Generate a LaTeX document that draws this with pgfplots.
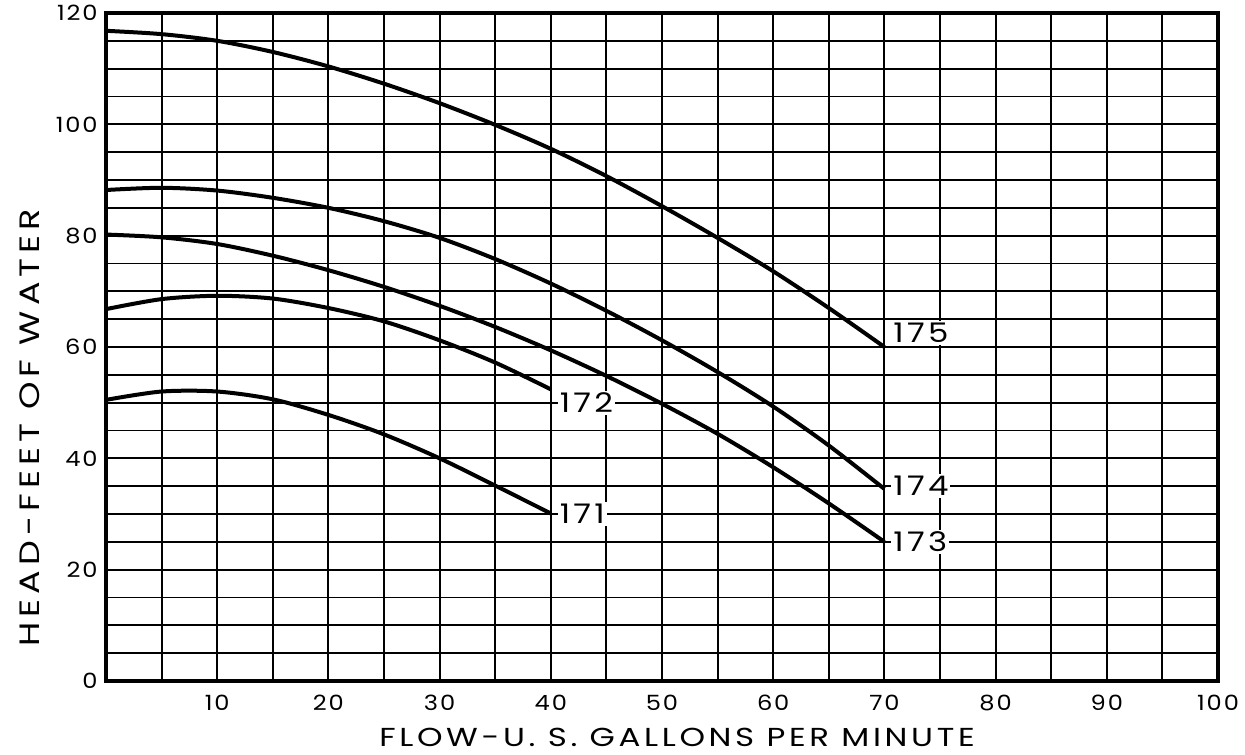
\documentclass[border=0pt]{standalone}
\usepackage{fontspec}
\setmainfont{Poppins}
\newfontfamily\ticfont[FakeStretch=1.15, LetterSpace=9]{Poppins}
\newfontfamily\curvefont[FakeStretch=1.2, LetterSpace=12]{Poppins}
\newfontfamily\xlabfont[FakeStretch=1.25, LetterSpace=14]{Poppins}
\newfontfamily\ylabfont[FakeStretch=1.25, LetterSpace=18]{Poppins}
\usepackage{pgfplots}
\pgfplotsset{compat=1.18}
\begin{document}
\begin{tikzpicture}
\begin{axis}[
  scale only axis, width=556pt, height=334pt,
  xmin=0, xmax=100, ymin=0, ymax=120,
  xtick={10,20,...,100}, ytick={0,20,...,120},
  minor xtick={5,15,...,95},
  minor ytick={5,10,15,25,30,35,45,50,55,65,70,75,85,90,95,105,110,115},
  grid=both,
  major grid style={black, line width=0.95pt},
  minor grid style={black, line width=0.95pt},
  major tick length=0pt, minor tick length=0pt,
  axis line style={black, line width=2.3pt},
  /pgf/number format/assume math mode=true,
  tick label style={font=\ticfont\fontsize{10.5}{12}\selectfont, inner sep=0pt},
  xticklabel style={anchor=north, yshift=-7pt},
  yticklabel style={anchor=east, xshift=-4pt},
  clip=false,
]
\addplot[black, line width=2pt, smooth] coordinates {
 (0,116.8) (5,116.2) (10,115.0) (15,113.0) (20,110.4) (25,107.3) (30,103.8) (35,99.9) (40,95.6) (45,90.7) (50,85.3) (55,79.6) (60,73.6) (65,67.0) (70,60)};
\addplot[black, line width=2pt, smooth] coordinates {
 (0,88.2) (5,88.6) (10,88.1) (15,86.8) (20,85) (25,82.6) (30,79.6) (35,75.8) (40,71.4) (45,66.5) (50,61.2) (55,55.5) (60,49.3) (65,42.3) (70,34.5)};
\addplot[black, line width=2pt, smooth] coordinates {
 (0,80.2) (5,79.7) (10,78.5) (15,76.4) (20,73.8) (25,70.8) (30,67.4) (35,63.6) (40,59.4) (45,54.8) (50,49.8) (55,44.4) (60,38.4) (65,31.9) (70,25)};
\addplot[black, line width=2pt, smooth] coordinates {
 (0,66.8) (5,68.6) (10,69.2) (15,68.7) (20,67) (25,64.6) (30,61.2) (35,57.2) (40,52.4)};
\addplot[black, line width=2pt, smooth] coordinates {
 (0,50.5) (5,52) (10,52) (15,50.6) (20,47.8) (25,44.3) (30,40) (35,35.1) (40,30.1)};
\node[anchor=west, fill=white, inner sep=1pt, font=\curvefont\fontsize{13.5}{15}\selectfont] at (axis cs:70.6,62.5) {175};
\node[anchor=west, fill=white, inner sep=1pt, font=\curvefont\fontsize{13.5}{15}\selectfont] at (axis cs:70.6,35) {174};
\node[anchor=west, fill=white, inner sep=1pt, font=\curvefont\fontsize{13.5}{15}\selectfont] at (axis cs:70.6,25) {173};
\node[anchor=west, fill=white, inner sep=1pt, font=\curvefont\fontsize{13.5}{15}\selectfont] at (axis cs:40.6,50) {172};
\node[anchor=west, fill=white, inner sep=1pt, font=\curvefont\fontsize{13.5}{15}\selectfont] at (axis cs:40.6,30) {171};
\node[rotate=90, inner sep=0pt, font=\ylabfont\fontsize{14}{16}\selectfont] at (rel axis cs:-0.0683,0.379) {HEAD-FEET OF WATER};
\node[anchor=north, inner sep=0pt, font=\xlabfont\fontsize{13}{15}\selectfont] at (rel axis cs:0.5135,-0.0704) {FLOW-U. S. GALLONS PER MINUTE};
\end{axis}
\pgfresetboundingbox
\path[use as bounding box] ([shift={(-53pt,-36.5pt)}]current axis.south west) rectangle ([shift={(13.5pt,6.5pt)}]current axis.north east);
\end{tikzpicture}
\end{document}
